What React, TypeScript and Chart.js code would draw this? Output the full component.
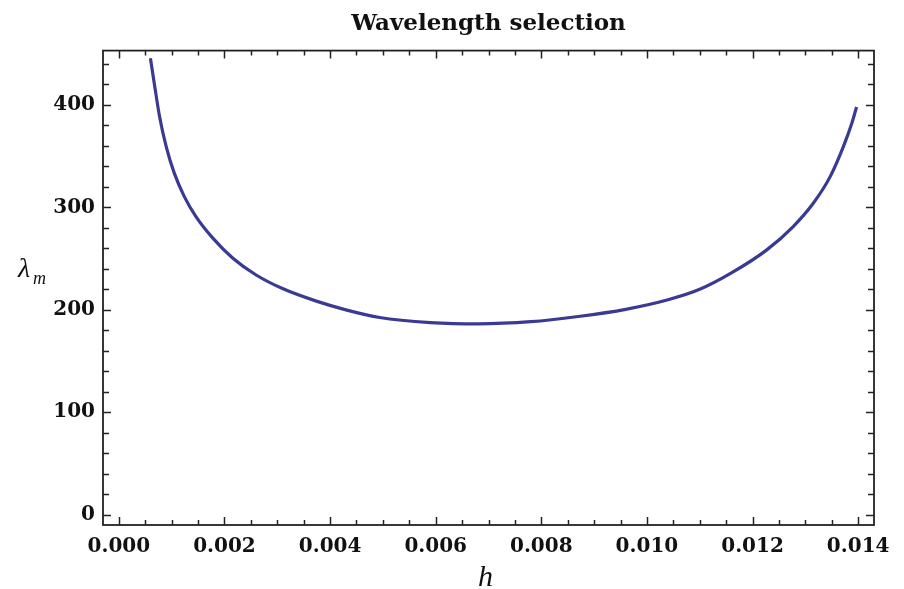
import React, { useEffect, useRef } from "react";
import { Chart, registerables } from "chart.js";

Chart.register(...registerables);

// Data
const hValues = [0.000598, 0.000674, 0.00077, 0.000897, 0.00105, 0.00124, 0.00146, 0.00178, 0.00216, 0.0026, 0.00311, 0.00374, 0.0043, 0.00494, 0.0059, 0.0068, 0.0078, 0.0087, 0.0096, 0.0104, 0.011, 0.0116, 0.01227, 0.01277, 0.01315, 0.01347, 0.01372, 0.01388, 0.01397];
const lambdaValues = [445.6, 420, 389, 359.3, 333.4, 310.5, 291, 270, 250.4, 234, 220.5, 208.5, 200, 192.5, 187.6, 186.3, 188.4, 193.5, 200.5, 209.8, 220, 236, 258.5, 281.3, 304, 330, 359.3, 382, 398];

const xMajorTicks = [0, 0.002, 0.004, 0.006, 0.008, 0.01, 0.012, 0.014];
const yMajorTicks = [0, 100, 200, 300, 400];
const xMinorStep = 0.0005;
const yMinorStep = 20;

const titleText = "Wavelength selection";
const xTitle = "h";
const yTitleMain = "λ";
const yTitleSub = "m";

const framePlugin = {
  id: "frameTicks",
  afterDraw(chart: any) {
    const { ctx, chartArea } = chart;
    const xs = chart.scales.x;
    const ys = chart.scales.y;
    const { left, right, top, bottom } = chartArea;
    ctx.save();
    ctx.strokeStyle = "#222";
    ctx.lineWidth = 1.8;
    ctx.strokeRect(left, top, right - left, bottom - top);
    ctx.lineWidth = 1.5;
    for (let v = 0; v <= 0.0141; v += xMinorStep) {
      const val = Math.round(v * 10000) / 10000;
      const major = xMajorTicks.some((t) => Math.abs(t - val) < 1e-9);
      const len = major ? 8 : 5;
      const px = Math.round(xs.getPixelForValue(val)) + 0.5;
      ctx.beginPath();
      ctx.moveTo(px, bottom);
      ctx.lineTo(px, bottom - len);
      ctx.moveTo(px, top);
      ctx.lineTo(px, top + len);
      ctx.stroke();
    }
    for (let v = 0; v <= 450; v += yMinorStep) {
      const major = yMajorTicks.includes(v);
      const len = major ? 8 : 6;
      const py = Math.round(ys.getPixelForValue(v)) + 0.5;
      ctx.beginPath();
      ctx.moveTo(left, py);
      ctx.lineTo(left + len, py);
      ctx.moveTo(right, py);
      ctx.lineTo(right - len, py);
      ctx.stroke();
    }
    ctx.fillStyle = "#111";
    ctx.textBaseline = "alphabetic";
    ctx.textAlign = "center";
    ctx.font = "italic 30px 'Liberation Serif'";
    ctx.fillText(xTitle, (left + right) / 2 - 3, 586);
    ctx.textAlign = "left";
    ctx.font = "italic 28px 'Liberation Serif'";
    ctx.fillText(yTitleMain, 18, 277);
    ctx.font = "italic 18px 'Liberation Serif'";
    ctx.fillText(yTitleSub, 33, 284);
    ctx.restore();
  },
};

export default function App() {
  const ref = useRef<HTMLCanvasElement>(null);
  useEffect(() => {
    if (!ref.current) return;
    const tickFont = { family: "'DejaVu Serif'", size: 20, weight: "bold" as const };
    const chart = new Chart(ref.current, {
      type: "scatter",
      data: {
        datasets: [
          {
            data: hValues.map((h, i) => ({ x: h, y: lambdaValues[i] })),
            showLine: true,
            borderColor: "#3a3a94",
            borderWidth: 3.2,
            pointRadius: 0,
            cubicInterpolationMode: "monotone",
          },
        ],
      },
      options: {
        animation: false,
        responsive: false,
        events: [],
        layout: { padding: { left: 0, right: 30, top: 0, bottom: 0 } },
        plugins: {
          legend: { display: false },
          tooltip: { enabled: false },
          title: {
            display: true,
            text: titleText,
            fullSize: false,
            color: "#111",
            font: { family: "'DejaVu Serif'", size: 23, weight: "bold" },
            padding: { top: 10, bottom: 13 },
          },
        },
        scales: {
          x: {
            type: "linear",
            min: -0.0003,
            max: 0.0143,
            afterBuildTicks: (s: any) => {
              s.ticks = xMajorTicks.map((v) => ({ value: v }));
            },
            afterFit: (s: any) => {
              s.height = 64;
            },
            grid: { display: false, drawTicks: false },
            border: { display: false },
            ticks: {
              color: "#111",
              font: tickFont,
              padding: 10,
              maxRotation: 0,
              autoSkip: false,
              callback: (v: any) => Number(v).toFixed(3),
            },
          },
          y: {
            type: "linear",
            min: -10,
            max: 453,
            afterBuildTicks: (s: any) => {
              s.ticks = yMajorTicks.map((v) => ({ value: v }));
            },
            afterFit: (s: any) => {
              s.width = 103;
            },
            grid: { display: false, drawTicks: false },
            border: { display: false },
            ticks: {
              color: "#111",
              font: tickFont,
              padding: 8,
              autoSkip: false,
              callback: (v: any) => String(v),
            },
          },
        },
      },
      plugins: [framePlugin],
    });
    return () => chart.destroy();
  }, []);
  return (
    <div style={{ position: "absolute", left: 0, top: 0, width: 904, height: 589, background: "#fff" }}>
      <canvas ref={ref} width={904} height={589} style={{ display: "block" }} />
    </div>
  );
}
